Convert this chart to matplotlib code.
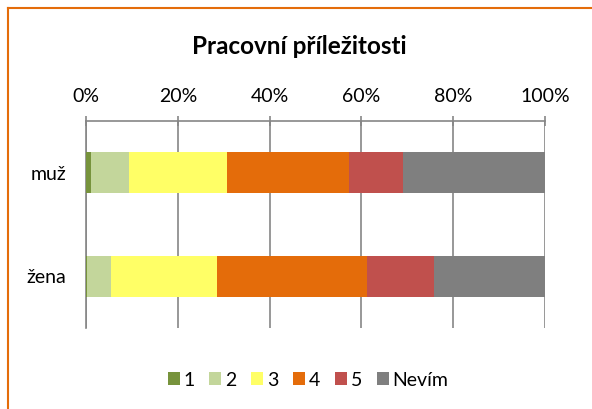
import matplotlib
matplotlib.use("Agg")
import matplotlib.pyplot as plt
from matplotlib.lines import Line2D
import numpy as np

plt.rcParams['font.family'] = ['Lato', 'DejaVu Sans']

categories = ["muž", "žena"]
series = ["1", "2", "3", "4", "5", "Nevím"]
values = {
    "1":     [1.1, 0.2],
    "2":     [8.3, 5.2],
    "3":     [21.4, 23.1],
    "4":     [26.5, 32.8],
    "5":     [11.8, 14.5],
    "Nevím": [30.9, 24.2],
}
colors = ["#77933C", "#C3D69B", "#FFFF66", "#E46C0A", "#C0504D", "#7F7F7F"]
xticks = [0, 20, 40, 60, 80, 100]
xtick_labels = ["0%", "20%", "40%", "60%", "80%", "100%"]

fig = plt.figure(figsize=(5.92, 4.09), dpi=100)
ax = fig.add_axes([86/592, 1-328/409, (545-86)/592, (328-121)/409])

y = np.arange(len(categories))
left = np.zeros(len(categories))
handles = []
tot = np.array([sum(values[k][i] for k in series) for i in range(len(categories))])
for s, c in zip(series, colors):
    v = np.array(values[s], dtype=float) / tot * 100
    b = ax.barh(y, v, left=left, height=0.4, color=c, edgecolor='none', zorder=3, label=s)
    left += v
    handles.append(b)

ax.set_xlim(0, 100)
ax.set_ylim(1.5, -0.5)
ax.set_yticks(y)
ax.set_yticklabels(categories, fontsize=14)
ax.xaxis.tick_top()
ax.set_xticks(xticks)
ax.set_xticklabels(xtick_labels, fontsize=14)
ax.tick_params(axis='x', direction='inout', length=7, width=1.2, color='#868686', pad=8, labelcolor='#000000')
ax.tick_params(axis='y', length=0, pad=14)
ax.grid(axis='x', color='#868686', linewidth=1.2, zorder=0)
ax.set_axisbelow(True)
for side in ['right', 'bottom']:
    ax.spines[side].set_visible(False)
for side in ['top', 'left']:
    ax.spines[side].set_color('#868686')
    ax.spines[side].set_linewidth(1.2)

fig.text(0.5 + 3/592, 1-47/409, "Pracovní příležitosti", ha='center', va='center',
         fontsize=17.5, fontweight='bold')

leg = fig.legend(handles=handles, labels=series, loc='center', bbox_to_anchor=(308/592, 1-380/409),
                 ncol=6, frameon=False, fontsize=14, handlelength=0.62, handleheight=0.62,
                 handletextpad=0.2, columnspacing=0.75)

# orange border (top & left)
bx = 8/592
by = 1 - 8/409
fig.add_artist(Line2D([bx, 1.0], [by, by], transform=fig.transFigure, color='#E46C0A', linewidth=1.5))
fig.add_artist(Line2D([bx, bx], [0.0, by], transform=fig.transFigure, color='#E46C0A', linewidth=1.5))

fig.savefig("out.png", dpi=100)
